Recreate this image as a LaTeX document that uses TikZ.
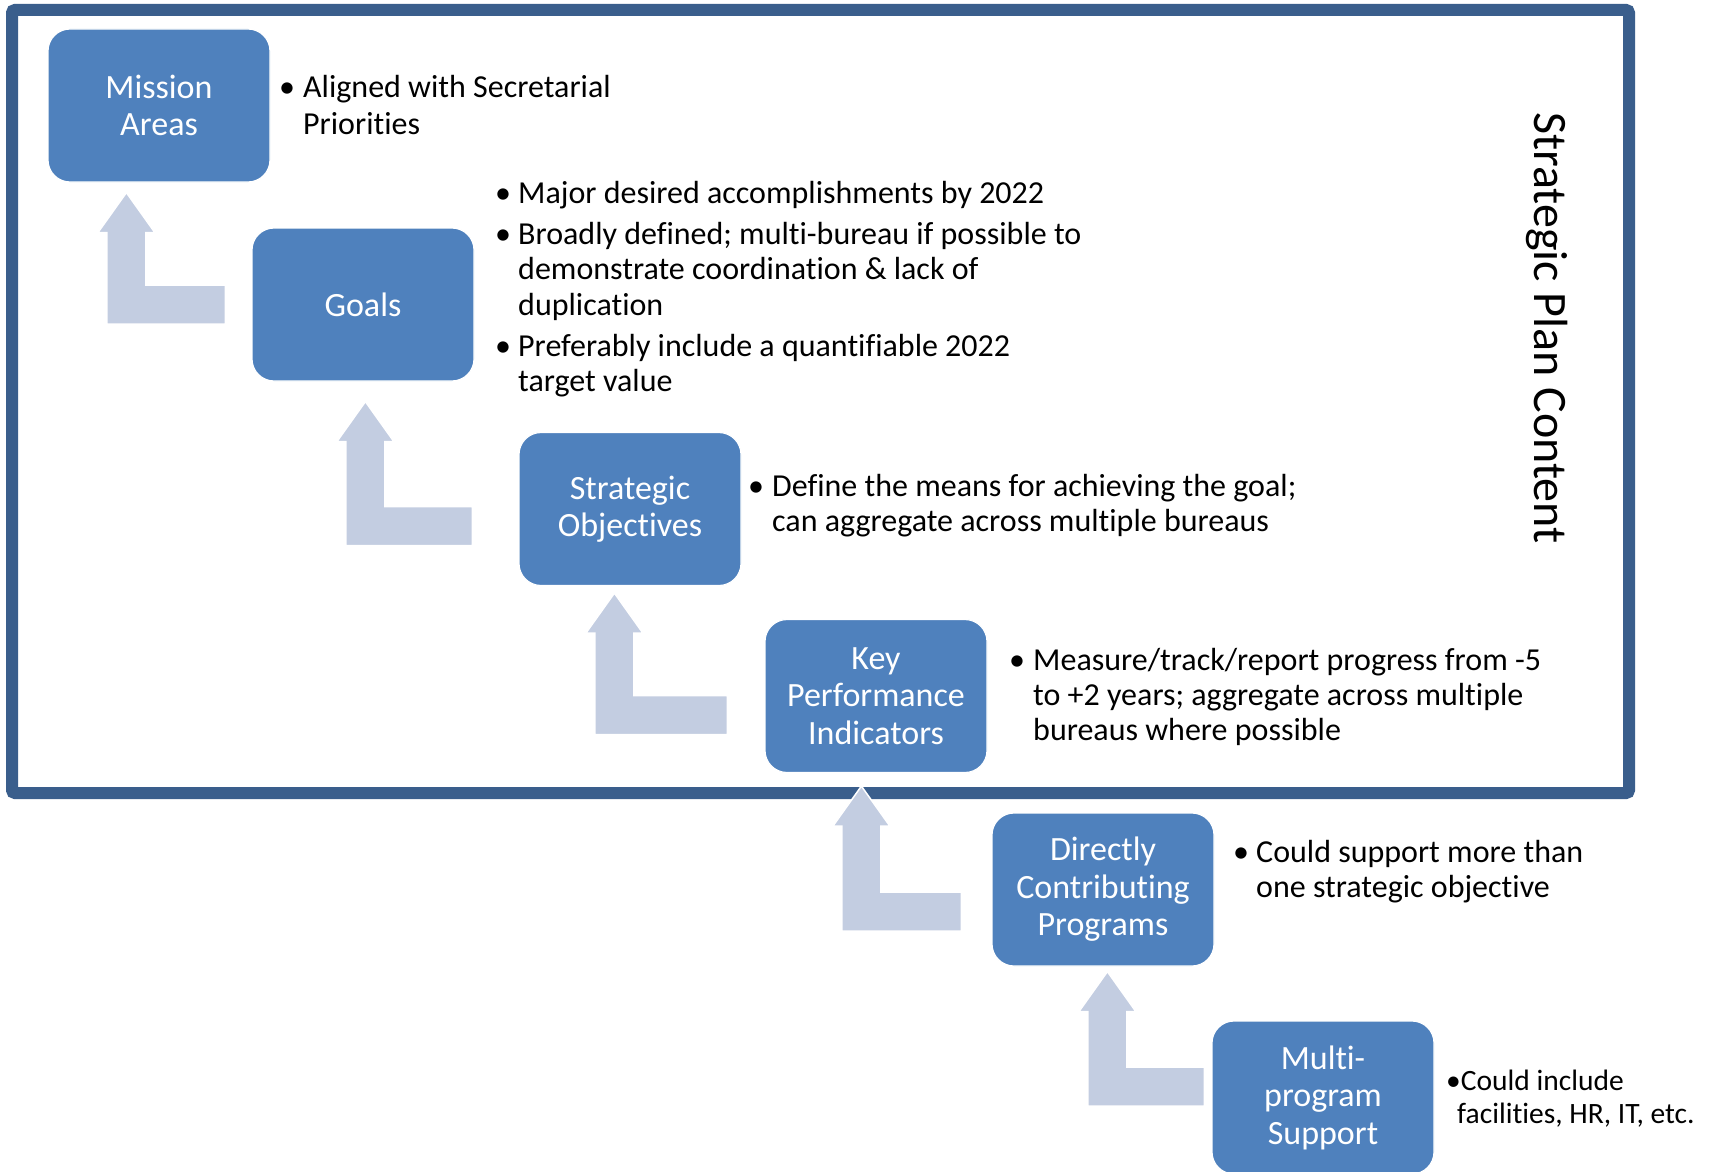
\documentclass[tikz,border=0pt]{standalone}
\usepackage{fontspec}
\setmainfont{Carlito}[Ligatures={NoCommon,NoRare,NoContextual}]
\usetikzlibrary{calc}
\definecolor{framec}{HTML}{3A5E8C}
\definecolor{boxc}{HTML}{4F81BD}
\definecolor{arrc}{HTML}{C3CDE1}
\tikzset{
  stepbox/.style={fill=boxc, draw=white, line width=1.2pt, rounded corners=22pt,
    minimum width=222pt, minimum height=153pt, inner sep=0pt, text=white,
    align=center, font=\fontsize{34}{37.5}\selectfont},
  btxt/.style={anchor=base west, inner sep=0pt, font=\fontsize{32}{36}\selectfont},
  stxt/.style={anchor=base west, inner sep=0pt, font=\fontsize{29.5}{33}\selectfont},
  arr/.style={fill=arrc, draw=white, line width=1.5pt},
}
\newcommand\bentarrow[2]{%
  \path[arr] let \p1=(#1), \p2=(#2) in
    (\x1,\y1) -- (\x1+28.5pt,\y1-40pt) -- (\x1+19.5pt,\y1-40pt)
    -- (\x1+19.5pt,\y2+19.5pt) -- (\x2,\y2+19.5pt) -- (\x2,\y2-19.5pt)
    -- (\x1-19.5pt,\y2-19.5pt) -- (\x1-19.5pt,\y1-40pt)
    -- (\x1-28.5pt,\y1-40pt) -- cycle;}
\begin{document}
\begin{tikzpicture}[x=1pt,y=-1pt]
\useasboundingbox (0,0) rectangle (1709,1172);
\clip (0,0) rectangle (1709,1172);
\fill[white] (0,0) rectangle (1709,1172);
% frame
\draw[framec, line width=12pt, rounded corners=3pt] (12,10) rectangle (1629,793);
% boxes
\node[stepbox] (mission) at (159,105.5) {Mission\\Areas};
\node[stepbox] (goals) at (363,304.5) {Goals};
\node[stepbox] (so) at (630,509) {Strategic\\Objectives};
\node[stepbox] (kpi) at (876,696) {Key\\Performance\\Indicators};
\node[stepbox] (dcp) at (1103,889.5) {Directly\\Contributing\\Programs};
\node[stepbox] (mps) at (1323,1097.5) {Multi-\\program\\Support};
% arrow anchor coordinates
\coordinate (t1) at ($(mission.south west)+(79,10)$);
\coordinate (e1) at ($(goals.west)+(-26,0)$);
\coordinate (t2) at ($(goals.south west)+(114,20)$);
\coordinate (e2) at ($(so.west)+(-46,17)$);
\coordinate (t3) at ($(so.south west)+(96,7)$);
\coordinate (e3) at ($(kpi.west)+(-37,19)$);
\coordinate (t4) at ($(kpi.south west)+(97,13)$);
\coordinate (e4) at ($(dcp.west)+(-30,22)$);
\coordinate (t5) at ($(dcp.south west)+(116,5)$);
\coordinate (e5) at ($(mps.west)+(-7,-11)$);
\bentarrow{t1}{e1}
\bentarrow{t2}{e2}
\bentarrow{t3}{e3}
\bentarrow{t4}{e4}
\bentarrow{t5}{e5}
% title
\node[rotate=-90, inner sep=0pt, font=\fontsize{48}{50}\selectfont] (title) at (1547,328) {Strategic Plan Content};
% bullets: mission
\node[btxt] (mb1) at (279,98) {•};
\node[btxt] (m1) at (303,98) {Aligned with Secretarial};
\node[btxt] (m2) at (303,134) {Priorities};
% goals
\node[btxt] (gb1) at (495,203) {•};
\node[btxt] (g1) at (518,203) {Major desired accomplishments by 2022};
\node[btxt] (gb2) at (495,244) {•};
\node[btxt] (g2) at (518,244) {Broadly defined; multi-bureau if possible to};
\node[btxt] (g3) at (518,279.5) {demonstrate coordination \& lack of};
\node[btxt] (g4) at (518,315) {duplication};
\node[btxt] (gb3) at (495,356) {•};
\node[btxt] (g5) at (518,356) {Preferably include a quantifiable 2022};
\node[btxt] (g6) at (518,391) {target value};
% strategic objectives
\node[btxt] (sb1) at (748,496) {•};
\node[btxt] (s1) at (772,496) {Define the means for achieving the goal;};
\node[btxt] (s2) at (772,531) {can aggregate across multiple bureaus};
% kpi
\node[btxt] (kb1) at (1009,670) {•};
\node[btxt] (k1) at (1033,670) {Measure/track/report progress from -5};
\node[btxt] (k2) at (1033,705) {to +2 years; aggregate across multiple};
\node[btxt] (k3) at (1033,740) {bureaus where possible};
% dcp
\node[btxt] (db1) at (1233,862) {•};
\node[btxt] (d1) at (1256,862) {Could support more than};
\node[btxt] (d2) at (1256,897) {one strategic objective};
% mps
\node[stxt] (pb1) at (1446,1090) {•Could include};
\node[stxt] (p2) at (1457,1123) {facilities, HR, IT, etc.};
\end{tikzpicture}
\end{document}
